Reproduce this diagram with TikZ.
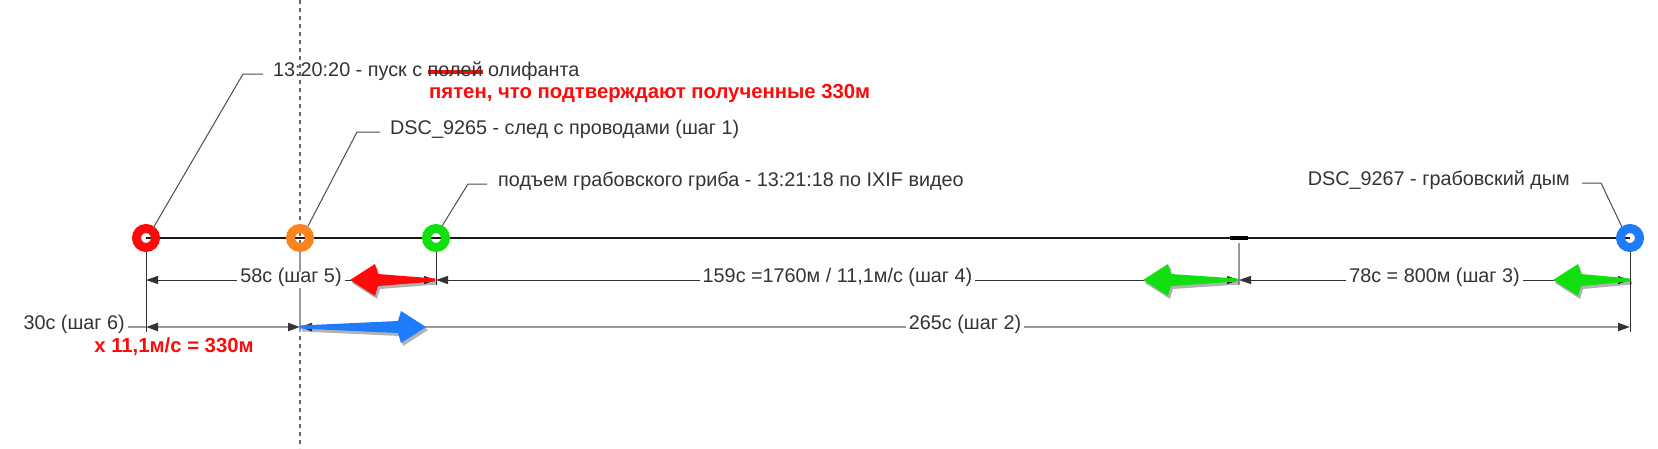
\documentclass[tikz,border=0pt]{standalone}
\usepackage{fontspec}
\setmainfont{Liberation Sans}
\usetikzlibrary{arrows.meta,positioning,shadows}

\definecolor{ringred}{HTML}{FF0A0A}
\definecolor{ringorange}{HTML}{FA8420}
\definecolor{ringgreen}{HTML}{10E010}
\definecolor{ringblue}{HTML}{1E7BFA}
\definecolor{inktext}{HTML}{333333}
\definecolor{dimgrey}{HTML}{9A9A9A}

\newcommand\notefont{\fontsize{19.8}{24}\selectfont}
\newcommand\redstrike[1]{\sbox0{#1}\rlap{\color{ringred}\rule[0.14em]{\wd0}{3.5pt}}#1}
% fat arrow: colour, tip x, tail x, y
\newcommand\blockarrow[4]{%
  \fill[#1, drop shadow={shadow xshift=2pt, shadow yshift=-3pt, opacity=.3, fill=black}]
    (#2,#4) -- ({#2+25*(#3-#2)/abs(#3-#2)},{#4-16}) -- ({#2+28*(#3-#2)/abs(#3-#2)},{#4-6})
    -- (#3,{#4-1.5}) -- (#3,{#4+1.5}) -- ({#2+28*(#3-#2)/abs(#3-#2)},{#4+6})
    -- ({#2+25*(#3-#2)/abs(#3-#2)},{#4+16}) -- cycle;}

\tikzset{
  ring/.style={circle, draw=#1, line width=9pt, minimum size=19pt, inner sep=0pt},
  tips/.style={{Triangle[length=12pt,width=8pt,color=inktext]}-{Triangle[length=12pt,width=8pt,color=inktext]}},
  dimline/.style={draw=inktext, line width=1pt},
  dimgreyline/.style={draw=dimgrey, line width=2pt},
  extline/.style={draw=inktext, line width=1pt},
  leader/.style={draw=black!70, line width=1pt},
  note/.style={font=\notefont, text=inktext, inner sep=1pt, text height=0.72em, text depth=0.22em},
  dimlabel/.style={note, fill=white, inner sep=3pt},
  rednote/.style={font=\fontsize{20.3}{24}\selectfont\bfseries, text=ringred, inner sep=1pt, text height=0.72em, text depth=0.22em},
}

\begin{document}
\begin{tikzpicture}[x=1pt,y=-1pt]
  \useasboundingbox (0,0) rectangle (1658,448);

  % points of the time line
  \coordinate (launch) at (146,238);
  \coordinate (trace)  at (300,238);
  \coordinate (rise)   at (436,238);
  \coordinate (mark)   at (1239,238);
  \coordinate (smoke)  at (1630,238);
  \coordinate (top)    at (0,0);
  \coordinate (bottom) at (0,448);
  \coordinate (row1)   at (0,280);
  \coordinate (row2)   at (0,327);
  \coordinate (foot1)  at (0,285);
  \coordinate (foot2)  at (0,332);

  \draw[draw=black!60, line width=1.8pt, dash pattern=on 4pt off 4pt] (trace |- top) -- (trace |- bottom);
  \draw[line width=2.5pt, black!90] (launch) -- (smoke);

  \node[ring=ringred]    (launchring) at (launch) {};
  \node[ring=ringorange] (tracering)  at (trace)  {};
  \node[ring=ringgreen]  (risering)   at (rise)   {};
  \node[ring=ringblue]   (smokering)  at (smoke)  {};
  \node[fill=black, minimum width=18pt, minimum height=4pt, inner sep=0pt] (tick) at (mark) {};

  % extension lines
  \draw[extline] (launchring.south) -- (launch |- foot2);
  \draw[draw=dimgrey, line width=1.5pt] (tracering.south) -- (trace |- foot2);
  \draw[extline] (risering.south) -- (rise |- foot1);
  \draw[draw=dimgrey, line width=1.5pt] ([yshift=-3pt]tick.south) -- (mark |- foot1);
  \draw[extline] (smokering.south) -- (smoke |- foot2);

  % dimensions
  \draw[dimline, tips] (launch |- row1) -- node[dimlabel] {58с (шаг 5)} (rise |- row1);
  \draw[dimline, tips] (rise |- row1) -- node[dimlabel] {159с =1760м / 11,1м/с (шаг 4)} (mark |- row1);
  \draw[dimline, tips] (mark |- row1) -- node[dimlabel] {78с = 800м (шаг 3)} (smoke |- row1);

  \node[dimlabel, anchor=east] (stepsix) at (128,327) {30с (шаг 6)};
  \draw[dimgreyline] (stepsix.east) -- (launch |- row2);
  \draw[dimgreyline, tips] (launch |- row2) -- (trace |- row2);
  \draw[dimgreyline, tips] (trace |- row2) -- node[dimlabel] {265с (шаг 2)} (smoke |- row2);
  \node[rednote] (speednote) at (174,350) {x 11,1м/с = 330м};

  \blockarrow{ringred}{350}{435}{280}
  \blockarrow{ringgreen}{1143}{1237}{280}
  \blockarrow{ringgreen}{1553}{1630}{280}
  \blockarrow{ringblue}{426}{300}{327}

  % notes with leaders
  \coordinate (launchknee) at (243,74);
  \coordinate (launchhook) at (263,74);
  \node[note, right=9pt of launchhook] (launchnote) {13:20:20 - пуск с \redstrike{полей} олифанта};
  \node[rednote, anchor=west] (confirmnote) at (428,96) {пятен, что подтверждают полученные 330м};
  \draw[leader] (launchring.55) -- (launchknee) -- (launchhook);

  \coordinate (traceknee) at (357,132);
  \coordinate (tracehook) at (380,132);
  \node[note, right=9pt of tracehook] (tracenote) {DSC\_9265 - след с проводами (шаг 1)};
  \draw[leader] (tracering.56) -- (traceknee) -- (tracehook);

  \coordinate (riseknee) at (468,184);
  \coordinate (risehook) at (487,184);
  \node[note, right=10pt of risehook] (risenote) {подъем грабовского гриба - 13:21:18 по IXIF видео};
  \draw[leader] (risering.63) -- (riseknee) -- (risehook);

  \coordinate (smokeknee) at (1601,183);
  \coordinate (smokehook) at (1582,183);
  \node[note, left=11pt of smokehook] (smokenote) {DSC\_9267 - грабовский дым};
  \draw[leader] (smokering.126) -- (smokeknee) -- (smokehook);
\end{tikzpicture}
\end{document}
